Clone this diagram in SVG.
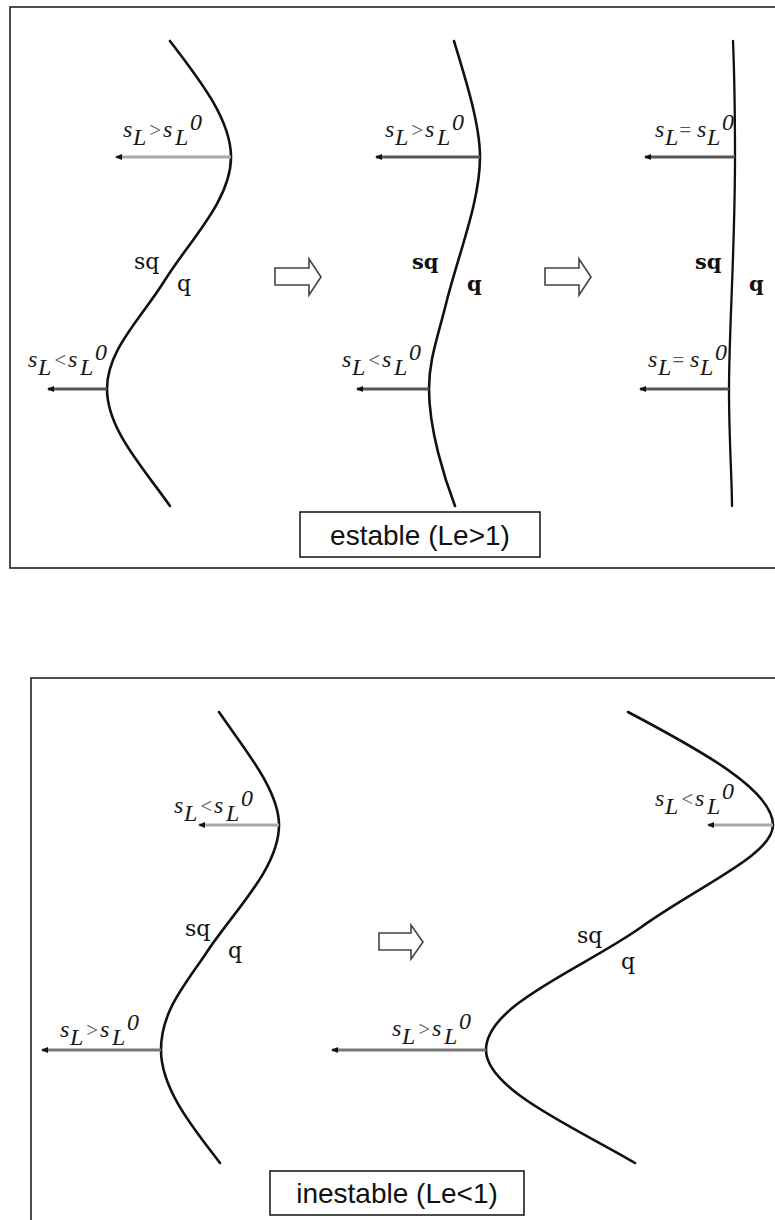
<svg xmlns="http://www.w3.org/2000/svg" width="775" height="1220" viewBox="0 0 775 1220">
<style>
.frame{fill:none;stroke:#222;stroke-width:1.6}
.front{fill:none;stroke:#111;stroke-width:2.6;stroke-linecap:round}
.vel{fill:none;stroke-width:3;marker-end:url(#tip)}
.lt{stroke:#a8a8a8}
.md{stroke:#777}
.dk{stroke:#555}
.m{font-family:"Liberation Serif","Times New Roman",serif;font-style:italic;font-size:24px;fill:#1a1a1a}
.op{font-size:21px;fill:#555}
.sq{font-family:"DejaVu Serif","Liberation Serif",serif;font-size:22px;fill:#111}
.b{font-weight:bold;font-size:21px}
.box{fill:#fff;stroke:#111;stroke-width:1.5}
.cap{font-family:"Liberation Sans",Arial,sans-serif;font-size:28px;fill:#111;text-anchor:middle}
.hollow{fill:#fff;stroke:#444;stroke-width:1.6;stroke-linejoin:miter}
</style>
<defs>
<marker id="tip" markerUnits="userSpaceOnUse" markerWidth="8" markerHeight="6" refX="6" refY="3" orient="auto">
<path d="M0,0 L7,3 L0,6 z" fill="#111"/>
</marker>
</defs>
<rect width="775" height="1220" fill="#fff"/>

<g id="frame-estable">
<rect class="frame" x="10" y="7" width="780" height="561"/>
</g>
<g id="frame-inestable">
<rect class="frame" x="31" y="678" width="760" height="560"/>
</g>

<g id="front-stable-1">
<path class="front" d="M170,41 C200,80 231,120 231,157 C231,200 190,240 165,280 C140,320 107,350 107,389 C107,430 145,470 170,506"/>
<line class="vel lt" x1="231" y1="157" x2="116" y2="157"/>
<line class="vel dk" x1="107" y1="389" x2="48" y2="389"/>
<text class="m"><tspan x="123" y="137">s</tspan><tspan x="133" y="145">L</tspan><tspan class="op" x="148" y="137">&gt;</tspan><tspan x="163" y="137">s</tspan><tspan x="175" y="145">L</tspan><tspan x="190" y="130">0</tspan></text>
<text class="m"><tspan x="28" y="367">s</tspan><tspan x="38" y="375">L</tspan><tspan class="op" x="53" y="367">&lt;</tspan><tspan x="68" y="367">s</tspan><tspan x="80" y="375">L</tspan><tspan x="95" y="360">0</tspan></text>
<text class="sq" x="134" y="269">sq</text>
<text class="sq" x="177" y="291">q</text>
</g>

<g id="front-stable-2">
<path class="front" d="M454,41 C466,80 480,125 480,157 C480,200 460,250 447,300 C437,340 429,360 429,389 C429,430 445,480 455,506"/>
<line class="vel dk" x1="480" y1="157" x2="376" y2="157"/>
<line class="vel dk" x1="429" y1="389" x2="357" y2="389"/>
<text class="m"><tspan x="385" y="137">s</tspan><tspan x="395" y="145">L</tspan><tspan class="op" x="410" y="137">&gt;</tspan><tspan x="425" y="137">s</tspan><tspan x="437" y="145">L</tspan><tspan x="452" y="130">0</tspan></text>
<text class="m"><tspan x="342" y="367">s</tspan><tspan x="352" y="375">L</tspan><tspan class="op" x="367" y="367">&lt;</tspan><tspan x="382" y="367">s</tspan><tspan x="394" y="375">L</tspan><tspan x="409" y="360">0</tspan></text>
<text class="sq b" x="412" y="269">sq</text>
<text class="sq b" x="467" y="291">q</text>
</g>

<g id="front-stable-3">
<path class="front" style="stroke-width:2.3" d="M733,41 C735,90 735,130 735,157 C735,250 729,330 729,389 C729,440 732,480 732,506"/>
<line class="vel dk" x1="735" y1="157" x2="645" y2="157"/>
<line class="vel dk" x1="729" y1="389" x2="640" y2="389"/>
<text class="m"><tspan x="655" y="137">s</tspan><tspan x="665" y="145">L</tspan><tspan class="op" x="678" y="137">=</tspan><tspan x="697" y="137">s</tspan><tspan x="707" y="145">L</tspan><tspan x="722" y="130">0</tspan></text>
<text class="m"><tspan x="648" y="367">s</tspan><tspan x="658" y="375">L</tspan><tspan class="op" x="671" y="367">=</tspan><tspan x="690" y="367">s</tspan><tspan x="700" y="375">L</tspan><tspan x="715" y="360">0</tspan></text>
<text class="sq b" x="695" y="269">sq</text>
<text class="sq b" x="749" y="291">q</text>
</g>

<g id="label-estable">
<rect class="box" x="300" y="512" width="240" height="45"/>
<text class="cap" x="420" y="545">estable (Le&gt;1)</text>
</g>

<g id="front-unstable-1">
<path class="front" d="M219,712 C245,750 279,790 279,825 C279,870 230,915 205,955 C180,990 161,1015 161,1050 C161,1090 195,1130 220,1163"/>
<line class="vel lt" x1="279" y1="825" x2="199" y2="825"/>
<line class="vel md" x1="161" y1="1050" x2="42" y2="1050"/>
<text class="m"><tspan x="174" y="813">s</tspan><tspan x="184" y="821">L</tspan><tspan class="op" x="199" y="813">&lt;</tspan><tspan x="214" y="813">s</tspan><tspan x="226" y="821">L</tspan><tspan x="241" y="806">0</tspan></text>
<text class="m"><tspan x="60" y="1037">s</tspan><tspan x="70" y="1045">L</tspan><tspan class="op" x="85" y="1037">&gt;</tspan><tspan x="100" y="1037">s</tspan><tspan x="112" y="1045">L</tspan><tspan x="127" y="1030">0</tspan></text>
<text class="sq" x="185" y="936">sq</text>
<text class="sq" x="228" y="958">q</text>
</g>

<g id="front-unstable-2">
<path class="front" d="M628,712 C700,750 773,790 773,825 C773,855 700,885 640,928 C580,970 486,1005 486,1050 C486,1090 580,1130 635,1163"/>
<line class="vel lt" x1="773" y1="825" x2="708" y2="825"/>
<line class="vel md" x1="486" y1="1050" x2="332" y2="1050"/>
<text class="m"><tspan x="655" y="806">s</tspan><tspan x="665" y="814">L</tspan><tspan class="op" x="680" y="806">&lt;</tspan><tspan x="695" y="806">s</tspan><tspan x="707" y="814">L</tspan><tspan x="722" y="799">0</tspan></text>
<text class="m"><tspan x="392" y="1036">s</tspan><tspan x="402" y="1044">L</tspan><tspan class="op" x="417" y="1036">&gt;</tspan><tspan x="432" y="1036">s</tspan><tspan x="444" y="1044">L</tspan><tspan x="459" y="1029">0</tspan></text>
<text class="sq" x="577" y="943">sq</text>
<text class="sq" x="621" y="969">q</text>
</g>

<g id="label-inestable">
<rect class="box" x="270" y="1171" width="254" height="44"/>
<text class="cap" x="397" y="1203">inestable (Le&lt;1)</text>
</g>

<g id="connectors">
<polygon class="hollow" points="275,268 309,268 309,259 321,277 309,295 309,285 275,285"/>
<polygon class="hollow" points="545,268 579,268 579,259 591,277 579,295 579,285 545,285"/>
<polygon class="hollow" points="379,933 411,933 411,925 423,942 411,959 411,950 379,950"/>
</g>
</svg>
